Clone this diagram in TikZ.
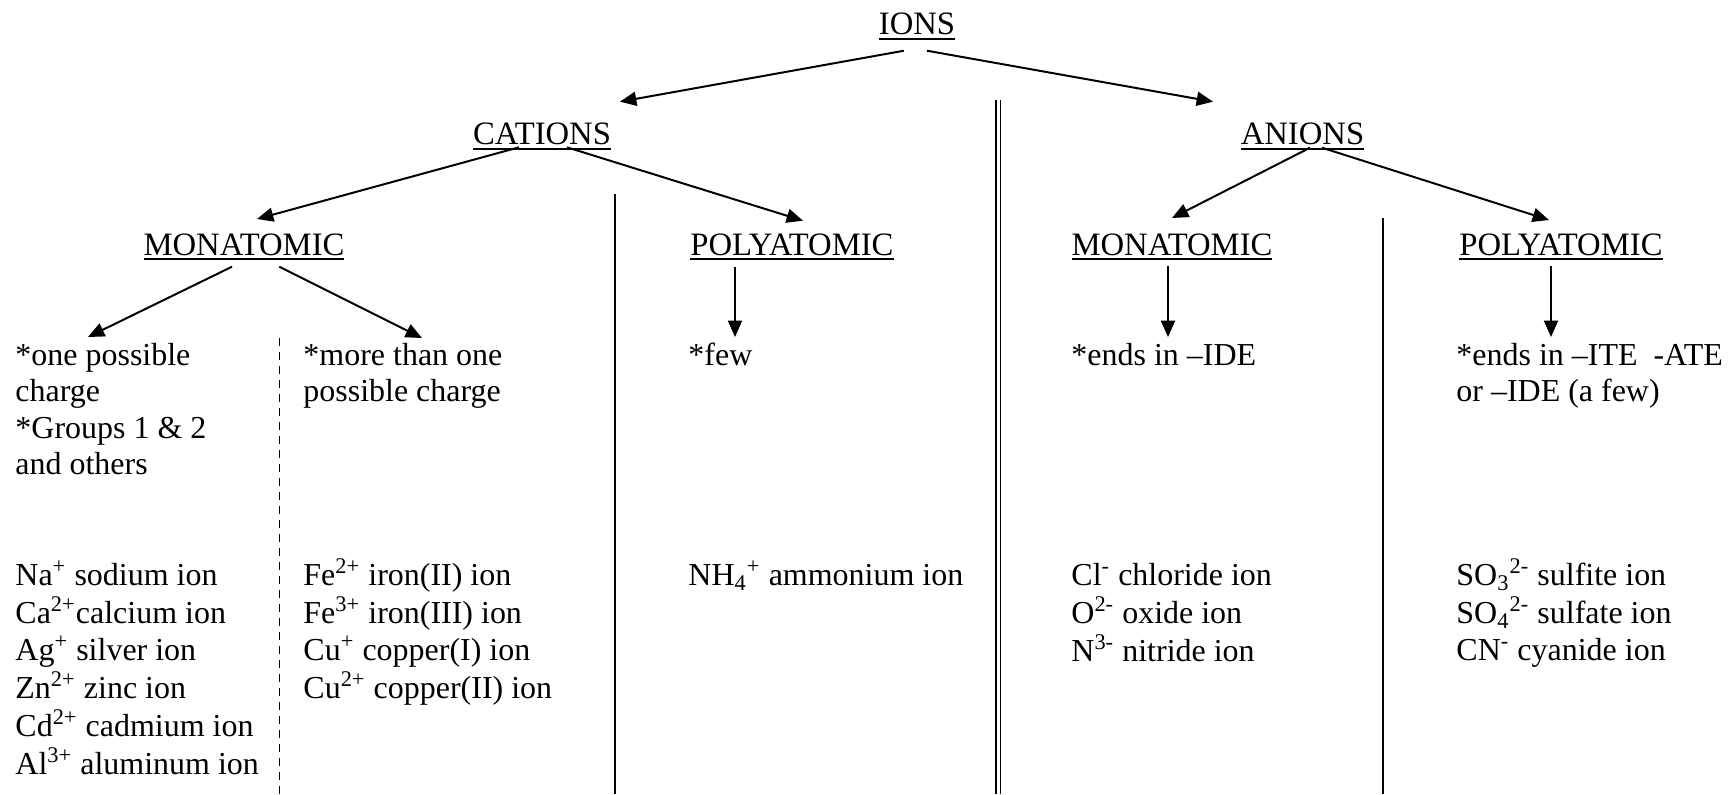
\documentclass[tikz,border=0pt]{standalone}
\usepackage{fontspec}
\setmainfont{Liberation Serif}
\usetikzlibrary{arrows.meta,calc}
\newcommand{\headul}[1]{\leavevmode\setbox0\hbox{#1}\rlap{\rule[-2.3pt]{\wd0}{0.9pt}}\box0}
\newcommand{\mlines}[1]{\begin{tabular}[t]{@{}l@{}}#1\end{tabular}}
\begin{document}
\begin{tikzpicture}[x=0.42857pt,y=-0.42857pt,
  head/.style={inner sep=0pt,anchor=base,font=\fontsize{14}{17}\selectfont},
  body/.style={inner sep=0pt,anchor=base west,font=\fontsize{13.7}{15.71}\selectfont},
  conn/.style={line width=0.85pt,-{Triangle[length=7pt,width=6pt]}},
  divider/.style={line width=0.85pt},
  thindiv/.style={line width=0.65pt},
  dashdiv/.style={line width=0.75pt,dash pattern=on 3.4pt off 2.6pt}]
\useasboundingbox (0,0) rectangle (1729,794);

% headings
\node[head] (ions)  at (917,34.3)   {\headul{IONS}};
\node[head] (cat)   at (542,144.3)  {\headul{CATIONS}};
\node[head] (an)    at (1302.5,144.3) {\headul{ANIONS}};
\node[head] (cmono) at (244,255)    {\headul{MONATOMIC}};
\node[head] (cpoly) at (792,255)    {\headul{POLYATOMIC}};
\node[head] (amono) at (1172,255)   {\headul{MONATOMIC}};
\node[head] (apoly) at (1561,255)   {\headul{POLYATOMIC}};

% descriptions
\node[body] (c1) at (15,365)   {\mlines{*one possible\\{}charge\\{}*Groups 1 \& 2\\{}and others}};
\node[body] (c2) at (303,365)  {\mlines{*more than one\\{}possible charge}};
\node[body] (c3) at (688,365)  {*few};
\node[body] (c4) at (1071,365) {*ends in --IDE};
\node[body] (c5) at (1456,365) {\mlines{*ends in --ITE\hspace{0.5em}-ATE\\{}or --IDE (a few)}};

% ion lists
\node[body] (l1) at (15,585.7) {\mlines{Na\textsuperscript{+} sodium ion\\{}Ca\textsuperscript{2+}calcium ion\\{}Ag\textsuperscript{+} silver ion\\{}Zn\textsuperscript{2+} zinc ion\\{}Cd\textsuperscript{2+} cadmium ion\\{}Al\textsuperscript{3+} aluminum ion}};
\node[body] (l2) at (303,585.7) {\mlines{Fe\textsuperscript{2+} iron(II) ion\\{}Fe\textsuperscript{3+} iron(III) ion\\{}Cu\textsuperscript{+} copper(I) ion\\{}Cu\textsuperscript{2+} copper(II) ion}};
\node[body] (l3) at (688,585.7) {NH\textsubscript{4}\textsuperscript{+} ammonium ion};
\node[body] (l4) at (1071,585.7) {\mlines{Cl\textsuperscript{-} chloride ion\\{}O\textsuperscript{2-} oxide ion\\{}N\textsuperscript{3-} nitride ion}};
\node[body] (l5) at (1456,585.7) {\mlines{SO\textsubscript{3}\textsuperscript{2-} sulfite ion\\{}SO\textsubscript{4}\textsuperscript{2-} sulfate ion\\{}CN\textsuperscript{-} cyanide ion}};

% connectors
\draw[conn] ($(ions.base)+(-13,16.4)$) -- ($(cat.base)+(78,-42.6)$);
\draw[conn] ($(ions.base)+(10,16.4)$) -- ($(an.base)+(-89.5,-42.6)$);
\draw[conn] ($(cat.base)+(-23,3)$) -- ($(cmono.base)+(13,-36)$);
\draw[conn] ($(cat.base)+(25,3)$) -- ($(cpoly.base)+(11,-34.3)$);
\draw[conn] ($(an.base)+(7.5,3.4)$) -- ($(amono.base)+(0,-37)$);
\draw[conn] ($(an.base)+(19.5,3.4)$) -- ($(apoly.base)+(-12,-35)$);
\draw[conn] ($(cmono.base)+(-12,11.7)$) -- ($(c1.base west)+(73,-28)$);
\draw[conn] ($(cmono.base)+(35.3,11.7)$) -- ($(c2.base west)+(119,-27)$);
\draw[conn] ($(cpoly.base)+(-57,12)$) -- ($(c3.base west)+(47,-28)$);
\draw[conn] ($(amono.base)+(-4,11)$) -- ($(c4.base west)+(97,-28)$);
\draw[conn] ($(apoly.base)+(-10,11)$) -- ($(c5.base west)+(95,-28)$);

% dividers
\draw[dashdiv] (279.4,338) -- (279.4,794);
\draw[divider] (615,194) -- (615,794);
\draw[thindiv] (996,100) -- (996,794);
\draw[thindiv] (1000.5,100) -- (1000.5,794);
\draw[divider] (1383,218) -- (1383,794);
\end{tikzpicture}
\end{document}
